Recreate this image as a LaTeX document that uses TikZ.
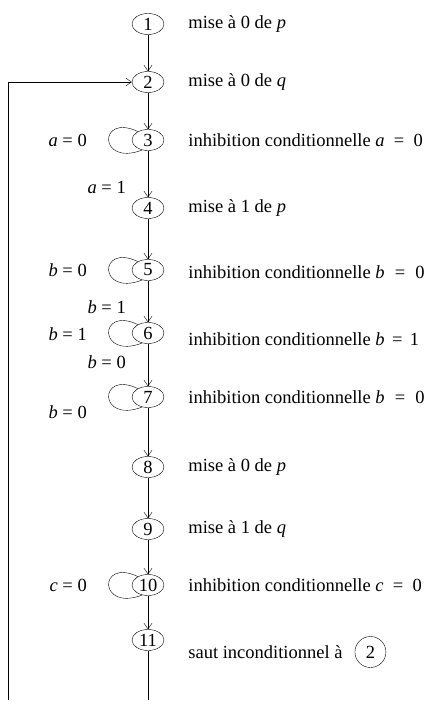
\documentclass[tikz,border=0pt]{standalone}
\usepackage{fontspec}
\setmainfont{Liberation Serif}
\usepackage{tikz}
\usetikzlibrary{positioning, shapes.geometric, arrows.meta}

\tikzset{
  etat/.style={draw, ellipse, minimum width=32pt, minimum height=21pt, inner sep=0pt},
  txt/.style={inner sep=0pt, anchor=west},
  lab/.style={inner sep=0pt, anchor=east},
  arr/.style={-{Straight Barb[angle=70:7pt]}},
  selfloop/.style={arr, to path={.. controls +(-44pt,-17pt) and +(-40pt,19pt) .. (\tikztotarget)}}
}
\newcommand{\eg}[3][0.25em]{\textit{#2}\hspace{#1}=\hspace{#1}#3}

\begin{document}
\begin{tikzpicture}[x=1pt, y=-1pt, font=\fontsize{18.5}{21}\selectfont]
      \useasboundingbox (0,0) rectangle (426,706);

      % etats
      \node[etat] (n1) at (148,24) {1};
      \node[etat] (n2) at (148,82) {2};
      \node[etat] (n3) at (148,140) {3};
      \node[etat] (n4) at (148,208) {4};
      \node[etat] (n5) at (148,270) {5};
      \node[etat] (n6) at (148,333) {6};
      \node[etat] (n7) at (148,397) {7};
      \node[etat] (n8) at (148,467) {8};
      \node[etat] (n9) at (148,529) {9};
      \node[etat] (n10) at (148,585) {10};
      \node[etat] (n11) at (148,640) {11};

      % liaisons
      \draw[arr] (n1) -- (n2);
      \draw[arr] (n2) -- (n3);
      \draw[arr] (n3) -- (n4);
      \draw[arr] (n4) -- (n5);
      \draw[arr] (n5) -- (n6);
      \draw[arr] (n6) -- (n7);
      \draw[arr] (n7) -- (n8);
      \draw[arr] (n8) -- (n9);
      \draw[arr] (n9) -- (n10);
      \draw[arr] (n10) -- (n11);

      % boucles
      \draw (n3.240) to[selfloop] (n3.140);
      \draw (n5.240) to[selfloop] (n5.140);
      \draw (n6.240) to[selfloop] (n6.140);
      \draw (n7.240) to[selfloop] (n7.140);
      \draw (n10.240) to[selfloop] (n10.140);

      % retour
      \coordinate (fin) at (148,700);
      \coordinate (ret) at (8,700);
      \draw (n11) -- (fin);
      \draw[arr] (ret) |- (n2);

      % conditions
      \node[lab] (c3) at (87,140) {\eg{a}{0}};
      \node[lab] (c34) at (126,187) {\eg{a}{1}};
      \node[lab] (c5) at (87,270) {\eg{b}{0}};
      \node[lab] (c56) at (126,307) {\eg{b}{1}};
      \node[lab] (c6) at (87,334) {\eg{b}{1}};
      \node[lab] (c67) at (126,362) {\eg{b}{0}};
      \node[lab] (c7) at (87,412) {\eg{b}{0}};
      \node[lab] (c10) at (87,585) {\eg{c}{0}};

      % commentaires
      \node[txt, right=24pt of n1] (t1) {mise à 0 de \textit{p}};
      \node[txt, right=24pt of n2] (t2) {mise à 0 de \textit{q}};
      \node[txt, right=24pt of n3] (t3) {inhibition conditionnelle \eg[0.5em]{a}{0}};
      \node[txt, right=24pt of n4] (t4) {mise à 1 de \textit{p}};
      \node[txt, right=24pt of n5, yshift=-2pt] (t5) {inhibition conditionnelle \eg[0.55em]{b}{0}};
      \node[txt, right=24pt of n6, yshift=-6pt] (t6) {inhibition conditionnelle \eg[0.4em]{b}{1}};
      \node[txt, right=24pt of n7] (t7) {inhibition conditionnelle \eg[0.55em]{b}{0}};
      \node[txt, right=24pt of n8] (t8) {mise à 0 de \textit{p}};
      \node[txt, right=24pt of n9] (t9) {mise à 1 de \textit{q}};
      \node[txt, right=24pt of n10] (t10) {inhibition conditionnelle \eg[0.5em]{c}{0}};
      \node[txt, right=24pt of n11, yshift=-12pt] (t11) {saut inconditionnel à};
      \node[draw, ellipse, minimum width=31pt, minimum height=31pt, inner sep=0pt, right=12pt of t11] (r2) {2};
    \end{tikzpicture}
\end{document}
